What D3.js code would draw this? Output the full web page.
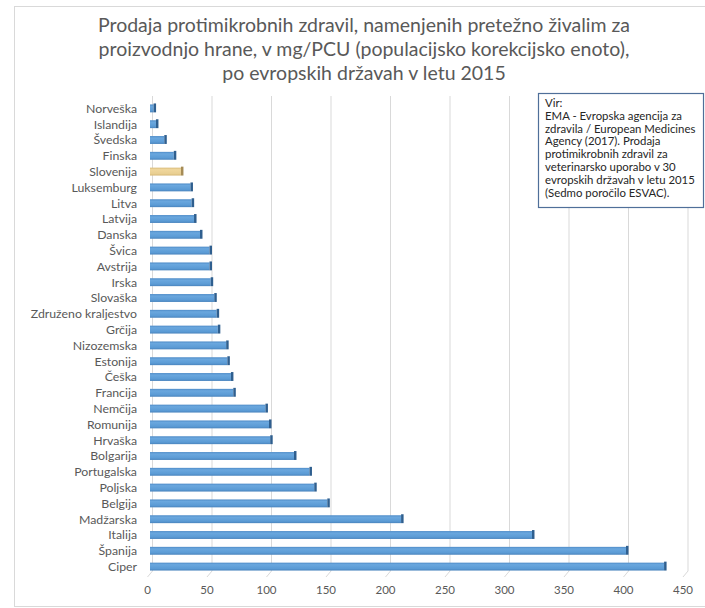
<!DOCTYPE html>
<html>
<head>
<meta charset="utf-8">
<script src="https://cdn.jsdelivr.net/npm/d3@7"></script>
<style>
  body { margin: 0; background: #fff; }
  svg { display: block; font-family: Lato, "Open Sans", sans-serif; }
</style>
</head>
<body>
<svg width="705" height="608"></svg>
<script>
const countries = [
    "Norveška", "Islandija", "Švedska", "Finska", "Slovenija", "Luksemburg",
    "Litva", "Latvija", "Danska", "Švica", "Avstrija", "Irska", "Slovaška",
    "Združeno kraljestvo", "Grčija", "Nizozemska", "Estonija", "Češka",
    "Francija", "Nemčija", "Romunija", "Hrvaška", "Bolgarija", "Portugalska",
    "Poljska", "Belgija", "Madžarska", "Italija", "Španija", "Ciper"
];
const sales = [
    3, 5, 12, 20, 26, 34,
    35, 37, 42, 50, 50, 51, 54,
    56, 57, 64, 65, 68,
    70, 97, 100, 101, 121, 134,
    138, 149, 211, 321, 400, 432
];
const xTicks = [0, 50, 100, 150, 200, 250, 300, 350, 400, 450];
const highlight = "Slovenija";

const titleLines = [
    "Prodaja protimikrobnih zdravil, namenjenih pretežno živalim za",
    "proizvodnjo hrane, v mg/PCU (populacijsko korekcijsko enoto),",
    "po evropskih državah v letu 2015"
];
const sourceLines = [
    "Vir:",
    "EMA - Evropska agencija za",
    "zdravila / European Medicines",
    "Agency (2017). Prodaja",
    "protimikrobnih zdravil za",
    "veterinarsko uporabo v 30",
    "evropskih državah v letu 2015",
    "(Sedmo poročilo ESVAC)."
];

const data = countries.map((c, i) => ({ country: c, value: sales[i] }));

const svg = d3.select("svg");

// outer chart frame
svg.append("rect")
    .attr("x", 14.5).attr("y", 6.5)
    .attr("width", 720).attr("height", 600)
    .attr("fill", "#fff")
    .attr("stroke", "#d9d9d9");

const defs = svg.append("defs");
const blue = defs.append("linearGradient").attr("id", "blue")
    .attr("x1", 0).attr("y1", 0).attr("x2", 0).attr("y2", 1);
blue.append("stop").attr("offset", "0%").attr("stop-color", "#4f8cc8");
blue.append("stop").attr("offset", "25%").attr("stop-color", "#6aa7de");
blue.append("stop").attr("offset", "75%").attr("stop-color", "#5b9bd5");
blue.append("stop").attr("offset", "100%").attr("stop-color", "#4a84bd");
const gold = defs.append("linearGradient").attr("id", "gold")
    .attr("x1", 0).attr("y1", 0).attr("x2", 0).attr("y2", 1);
gold.append("stop").attr("offset", "0%").attr("stop-color", "#d9bc7a");
gold.append("stop").attr("offset", "25%").attr("stop-color", "#f0d79d");
gold.append("stop").attr("offset", "75%").attr("stop-color", "#e9cf92");
gold.append("stop").attr("offset", "100%").attr("stop-color", "#d6b877");

const x = d3.scaleLinear().domain([0, 450]).range([152.5, 688]);
const y = d3.scaleBand().domain(countries).range([100.5, 574.5]).paddingInner(0.5).paddingOuter(0.25);

const GRID_TOP = 96, GRID_BOT = 571, SLANT = 5;

// gridlines with a slanted 3D floor
const grid = svg.append("g");
xTicks.forEach(t => {
    grid.append("path")
        .attr("d", `M${x(t)},${GRID_TOP}V${GRID_BOT}L${x(t) - SLANT},${GRID_BOT + 6}`)
        .attr("fill", "none")
        .attr("stroke", "#d9d9d9")
        .attr("stroke-width", 1);
});

// x tick labels
svg.append("g").selectAll("text")
    .data(xTicks)
    .join("text")
    .attr("x", d => x(d) - SLANT)
    .attr("y", 594)
    .attr("text-anchor", "middle")
    .attr("font-size", 11.5)
    .attr("fill", "#595959")
    .text(d => d);

// category labels
svg.append("g").selectAll("text")
    .data(countries)
    .join("text")
    .attr("x", 137)
    .attr("y", d => y(d) + y.bandwidth() / 2)
    .attr("dy", "0.35em")
    .attr("text-anchor", "end")
    .attr("font-size", 12.3)
    .attr("fill", "#595959")
    .text(d => d);

// bars
const bars = svg.append("g").selectAll("g")
    .data(data)
    .join("g");

bars.append("rect")
    .attr("x", x(0) - 2.5)
    .attr("y", d => y(d.country))
    .attr("width", d => x(d.value) - x(0))
    .attr("height", y.bandwidth())
    .attr("fill", d => d.country === highlight ? "url(#gold)" : "url(#blue)");

bars.append("rect")
    .attr("x", d => x(d.value) - 2.5)
    .attr("y", d => y(d.country) - 1)
    .attr("width", 2.5)
    .attr("height", y.bandwidth() + 1)
    .attr("fill", d => d.country === highlight ? "#a58b55" : "#2f5f8f");

// title
svg.append("g").selectAll("text")
    .data(titleLines)
    .join("text")
    .attr("x", 364)
    .attr("y", (d, i) => 32 + i * 24)
    .attr("text-anchor", "middle")
    .attr("font-size", 19.5)
    .attr("fill", "#595959")
    .text(d => d);

// source box
svg.append("rect")
    .attr("x", 538.5).attr("y", 93.5)
    .attr("width", 165).attr("height", 114)
    .attr("fill", "#fff")
    .attr("stroke", "#4f6f99")
    .attr("stroke-width", 1.2);

svg.append("g").selectAll("text")
    .data(sourceLines)
    .join("text")
    .attr("x", 545)
    .attr("y", (d, i) => 107 + i * 12.8)
    .attr("font-size", 11.4)
    .attr("fill", "#262626")
    .text(d => d);
</script>
</body>
</html>
